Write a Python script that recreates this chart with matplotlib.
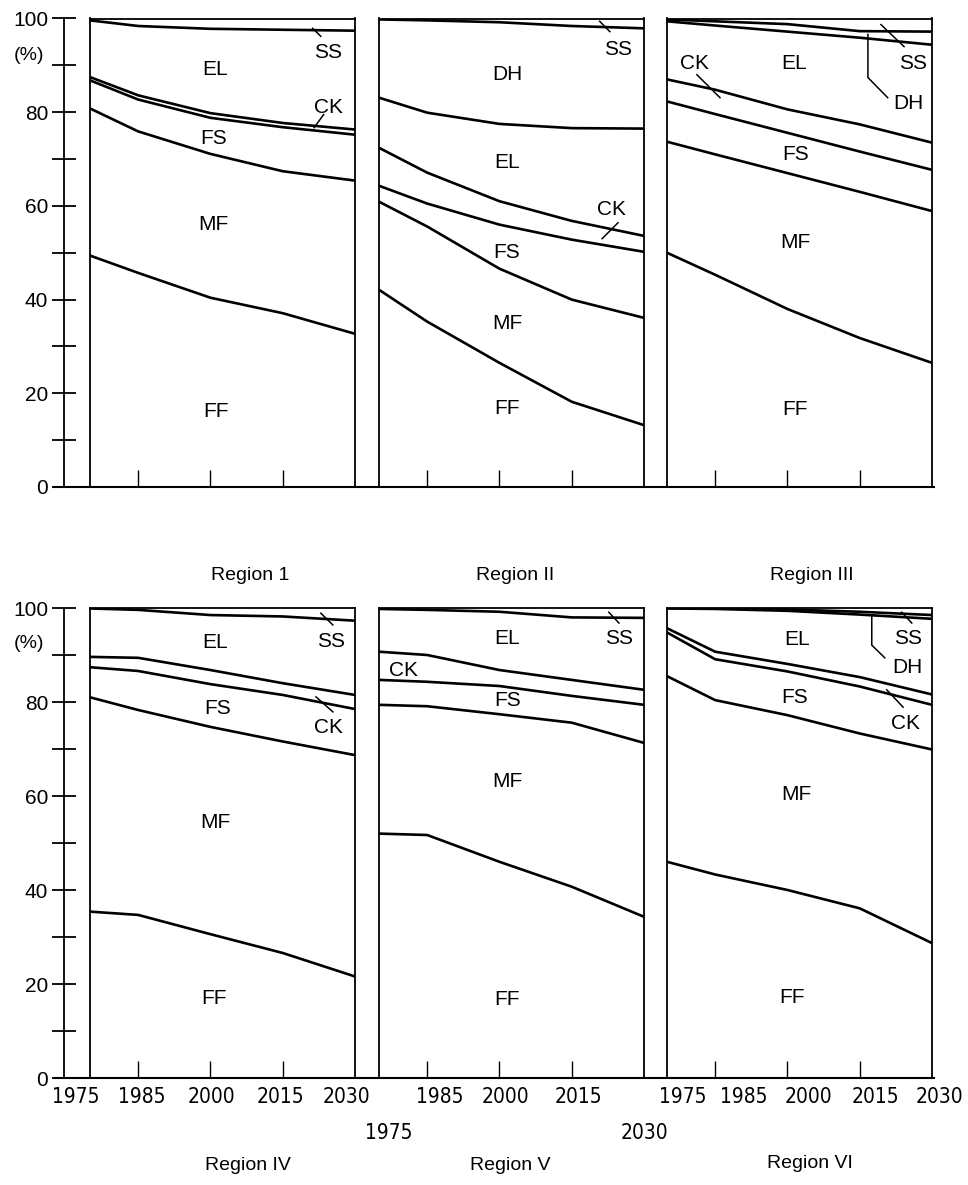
import numpy as np
import matplotlib
matplotlib.use('Agg')
import matplotlib.pyplot as plt
from matplotlib.lines import Line2D
from matplotlib import font_manager

years = [1975, 1985, 2000, 2015, 2030]
categories = ['FF', 'MF', 'FS', 'CK', 'EL', 'DH', 'SS']
region_names = ['Region 1', 'Region II', 'Region III', 'Region IV', 'Region V', 'Region VI']

# shares in %, one row per category (bottom to top: FF MF FS CK EL DH SS)
region1 = [
    [49.4, 45.7, 40.4, 37.1, 32.7],
    [31.4, 30.2, 30.7, 30.3, 32.7],
    [6.0, 6.8, 7.7, 9.4, 9.8],
    [0.7, 0.9, 1.0, 0.9, 1.1],
    [12.1, 14.8, 18.0, 19.9, 21.1],
    [0.0, 0.0, 0.0, 0.0, 0.0],
    [0.4, 1.6, 2.2, 2.4, 2.6],
]
region2 = [
    [42.1, 35.3, 26.5, 18.2, 13.2],
    [18.8, 20.3, 20.1, 21.8, 22.9],
    [3.4, 4.9, 9.4, 12.8, 14.1],
    [8.1, 6.6, 5.0, 4.0, 3.4],
    [10.7, 12.8, 16.5, 19.8, 22.9],
    [16.7, 19.7, 21.7, 21.8, 21.4],
    [0.2, 0.4, 0.8, 1.6, 2.1],
]
region3 = [
    [50.0, 45.3, 38.0, 31.8, 26.5],
    [23.7, 25.7, 29.0, 31.2, 32.4],
    [8.6, 8.6, 8.6, 8.6, 8.8],
    [4.7, 5.2, 5.0, 5.8, 5.8],
    [12.4, 13.7, 16.6, 18.5, 20.9],
    [0.4, 0.9, 1.6, 1.4, 2.8],
    [0.2, 0.6, 1.2, 2.7, 2.8],
]
region4 = [
    [35.4, 34.7, 30.6, 26.6, 21.6],
    [45.6, 43.6, 44.1, 45.0, 47.1],
    [6.4, 8.3, 9.1, 9.9, 9.8],
    [2.2, 2.8, 3.0, 2.5, 3.0],
    [10.3, 10.2, 11.7, 14.2, 15.8],
    [0.0, 0.0, 0.0, 0.0, 0.0],
    [0.1, 0.4, 1.5, 1.8, 2.7],
]
region5 = [
    [52.0, 51.7, 46.0, 40.7, 34.3],
    [27.4, 27.4, 31.4, 34.9, 37.0],
    [5.3, 5.2, 6.0, 5.7, 8.1],
    [6.0, 5.7, 3.4, 3.4, 3.2],
    [9.1, 9.6, 12.4, 13.3, 15.3],
    [0.0, 0.0, 0.0, 0.0, 0.0],
    [0.2, 0.4, 0.8, 2.0, 2.1],
]
region6 = [
    [46.0, 43.3, 40.0, 36.1, 28.7],
    [39.5, 37.1, 37.2, 37.2, 41.2],
    [9.3, 8.7, 9.3, 10.0, 9.5],
    [0.9, 1.6, 1.6, 2.0, 2.2],
    [4.2, 9.1, 11.3, 13.3, 16.1],
    [0.1, 0.1, 0.3, 0.6, 0.8],
    [0.0, 0.1, 0.3, 0.8, 1.5],
]
all_regions = [region1, region2, region3, region4, region5, region6]

# band labels (year, %, text) and leader lines
labels = [
    [(2024.4, 92.7, 'SS'), (2001, 89.1, 'EL'), (2024.4, 81.0, 'CK'), (2000.6, 74.4, 'FS'),
     (2000.6, 56, 'MF'), (2001.2, 16.2, 'FF')],
    [(2024.6, 93.4, 'SS'), (2001.7, 88.0, 'DH'), (2001.5, 69.2, 'EL'), (2023.3, 59.2, 'CK'),
     (2001.5, 50.0, 'FS'), (2001.7, 35.0, 'MF'), (2001.5, 16.7, 'FF')],
    [(1980.8, 90.4, 'CK'), (2001.3, 90.4, 'EL'), (2026, 90.4, 'SS'), (2025.2, 81.8, 'DH'),
     (2001.7, 70.9, 'FS'), (2001.7, 52.1, 'MF'), (2001.5, 16.5, 'FF')],
    [(2001, 92.6, 'EL'), (2025, 92.8, 'SS'), (2001.4, 78.7, 'FS'), (2024.6, 74.5, 'CK'),
     (2001, 54.3, 'MF'), (2000.8, 17.0, 'FF')],
    [(2001.5, 93.6, 'EL'), (2024.8, 93.6, 'SS'), (1980, 86.8, 'CK'), (2001.7, 80.4, 'FS'),
     (2001.7, 63.0, 'MF'), (2001.5, 16.6, 'FF')],
    [(2001.9, 93.2, 'EL'), (2025, 93.6, 'SS'), (2024.8, 87.4, 'DH'), (2001.5, 80.9, 'FS'),
     (2024.4, 75.5, 'CK'), (2001.9, 60.4, 'MF'), (2001, 17.2, 'FF')],
]
leaders = [
    [[(2021.2, 97.9), (2022.9, 96.2)], [(2021.5, 76.7), (2023.5, 79.5)]],
    [[(2020.8, 99.4), (2022.9, 97.2)], [(2021.3, 53.0), (2024.6, 56.4)]],
    [[(1981.2, 88.0), (1986, 83.1)], [(2019.4, 98.7), (2024.2, 94.0)],
     [(2016.7, 96.6), (2016.7, 87.4), (2020.8, 83.1)]],
    [[(2022.9, 98.9), (2025.4, 96.4)], [(2021.9, 81.1), (2025.4, 77.9)]],
    [[(2022.7, 99.1), (2024.8, 96.8)]],
    [[(2023.7, 99.1), (2025.8, 96.8)], [(2017.5, 98.1), (2017.5, 92.1), (2020.2, 89.4)],
     [(2020.6, 82.6), (2024, 78.9)]],
]

# condensed face for the year labels if one is installed
year_font = {'family': 'Liberation Sans', 'size': 14}
for f in font_manager.fontManager.ttflist:
    if f.name == 'Liberation Sans Narrow':
        year_font = {'family': 'Liberation Sans Narrow', 'size': 16}
        break
else:
    for f in font_manager.fontManager.ttflist:
        if f.name == 'DejaVu Sans' and f.stretch == 'condensed' and f.weight in (400, 'normal'):
            year_font = {'family': 'DejaVu Sans', 'stretch': 'condensed', 'size': 15}
            break

plt.rcParams['font.family'] = ['Liberation Sans', 'DejaVu Sans']

W, H = 968, 1185
fig = plt.figure(figsize=(W / 100, H / 100), dpi=100)

def fx(x):
    return x / W

def fy(y):
    return 1 - y / H

lefts = [90, 379, 667]
pw = 265
rows = [(18.5, 487), (608, 1078)]

for i, shares in enumerate(all_regions):
    r, c = divmod(i, 3)
    top, bot = rows[r]
    ax = fig.add_axes([fx(lefts[c]), fy(bot), pw / W, (bot - top) / H])
    ax.set_xlim(1975, 2030)
    ax.set_ylim(0, 100)
    for s in ['left', 'right', 'top']:
        ax.spines[s].set_linewidth(1.3)
    ax.spines['bottom'].set_visible(False)
    ax.set_yticks([])
    ax.set_xticks([1985, 2000, 2015])
    ax.tick_params(axis='x', direction='in', length=12, width=1.0, labelbottom=False)
    ax.patch.set_alpha(0)

    arr = np.array(shares)
    cum = np.cumsum(arr, axis=0)
    for k in range(len(categories) - 1):
        if arr[k].max() == 0 and k > 0:
            continue
        if np.all(cum[k] >= 99.95):
            continue
        ax.plot(years, cum[k], color='black', lw=1.9, solid_joinstyle='round')

    for x, y, t in labels[i]:
        ax.text(x, y, t, ha='center', va='center', fontsize=15)
    for pts in leaders[i]:
        xs, ys = zip(*pts)
        ax.plot(xs, ys, color='black', lw=1.1)

    # region title
    title_x = [250, 515, 812, 248, 510, 810][i]
    title_y = [575, 575, 575, 1165, 1165, 1163][i]
    fig.text(fx(title_x), fy(title_y), region_names[i], ha='center', va='center', fontsize=14)

# y axes and baselines
for r, (top, bot) in enumerate(rows):
    yax = fig.add_axes([fx(64), fy(bot), 0.001, (bot - top) / H])
    yax.set_ylim(0, 100)
    for s in ['right', 'top', 'bottom']:
        yax.spines[s].set_visible(False)
    yax.spines['left'].set_linewidth(1.3)
    yax.set_xticks([])
    yax.set_yticks([0, 20, 40, 60, 80, 100])
    yax.set_yticks([10, 30, 50, 70, 90], minor=True)
    yax.tick_params(axis='y', which='both', direction='inout', length=17, width=1.3, pad=3,
                    labelsize=15)
    yax.tick_params(axis='y', which='minor', labelleft=False)
    yax.patch.set_alpha(0)
    fig.add_artist(Line2D([fx(54), fx(934)], [fy(bot), fy(bot)], color='black', lw=1.5))
    fig.text(fx(29), fy([55, 644][r]), '(%)', ha='center', va='center', fontsize=14)

# year labels under the lower row
year_rows = [
    (1097, [(76, '1975'), (142, '1985'), (211, '2000'), (280, '2015'), (346, '2030'),
            (440, '1985'), (505, '2000'), (578, '2015'),
            (683, '1975'), (744, '1985'), (808, '2000'), (875, '2015'), (939, '2030')]),
    (1133, [(389, '1975'), (644, '2030')]),
]
for yy, items in year_rows:
    for xx, t in items:
        fig.text(fx(xx), fy(yy), t, ha='center', va='center', **year_font)

fig.savefig('out.png', dpi=100, facecolor='white')
